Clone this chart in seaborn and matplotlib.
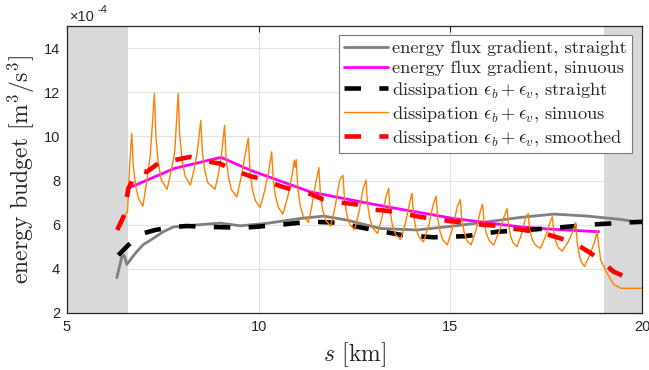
import matplotlib
matplotlib.use("Agg")
import matplotlib.pyplot as plt
import seaborn as sns
import pandas as pd
from matplotlib.lines import Line2D

# ---------------- data (values in units of 1e-4 m^3/s^3) ----------------
straight_flux_s = [6.30, 6.43, 6.49, 6.56, 6.78, 6.99, 7.25, 7.51, 7.78, 8.30, 9.00, 9.52,
                   10.21, 11.08, 11.70, 12.30, 13.17, 14.13, 15.09, 15.96, 16.83, 17.70,
                   18.57, 19.44, 20.00]
straight_flux_v = [3.60, 4.55, 4.62, 4.20, 4.70, 5.10, 5.38, 5.68, 5.90, 5.98, 6.07, 5.95,
                   6.06, 6.28, 6.39, 6.21, 5.83, 5.76, 5.94, 6.13, 6.33, 6.48,
                   6.39, 6.24, 6.09]

sinuous_flux_s = [6.58, 7.80, 9.02, 9.78, 11.34, 12.65, 13.35, 15.09, 16.83, 17.70, 18.87]
sinuous_flux_v = [7.64, 8.55, 9.05, 8.47, 7.49, 7.04, 6.81, 6.28, 5.90, 5.79, 5.68]

straight_diss_s = [6.34, 6.60, 6.99, 7.30, 7.78, 8.12, 8.73, 9.60, 10.47, 11.34, 12.04,
                   12.91, 13.74, 14.56, 15.39, 16.22, 17.00, 17.87, 18.74, 19.61, 20.00]
straight_diss_v = [4.62, 5.08, 5.61, 5.76, 5.90, 5.94, 5.90, 5.86, 5.98, 6.14, 6.09,
                   5.79, 5.53, 5.43, 5.48, 5.68, 5.76, 5.88, 6.01, 6.10, 6.13]

sinuous_diss_s = [6.50, 6.58, 6.63,
                  6.69, 6.73, 6.79, 6.87, 6.98, 7.07, 7.17,
                  7.28, 7.32, 7.38, 7.46, 7.61, 7.71, 7.81,
                  7.90, 7.94, 8.00, 8.08, 8.22, 8.31, 8.40,
                  8.49, 8.53, 8.59, 8.67, 8.86, 8.95, 9.03,
                  9.11, 9.15, 9.21, 9.29, 9.43, 9.53, 9.63,
                  9.73, 9.77, 9.83, 9.91, 10.04, 10.15, 10.26,
                  10.34, 10.38, 10.44, 10.52, 10.63, 10.76, 10.87, 10.93, 10.95,
                  10.98, 11.02, 11.08, 11.16, 11.30, 11.39, 11.48,
                  11.57, 11.61, 11.67, 11.75, 11.88, 12.00, 12.11,
                  12.20, 12.24, 12.30, 12.38, 12.50, 12.62, 12.72,
                  12.80, 12.84, 12.90, 12.98, 13.10, 13.22, 13.32,
                  13.39, 13.43, 13.49, 13.57, 13.70, 13.83, 13.94,
                  14.00, 14.04, 14.10, 14.18, 14.30, 14.44, 14.55,
                  14.63, 14.67, 14.73, 14.81, 14.92, 15.06, 15.18,
                  15.26, 15.30, 15.36, 15.43, 15.54, 15.67, 15.78,
                  15.84, 15.88, 15.94, 16.02, 16.13, 16.27, 16.41,
                  16.48, 16.52, 16.57, 16.64, 16.74, 16.86, 16.96,
                  17.03, 17.07, 17.13, 17.21, 17.35, 17.48, 17.60,
                  17.66, 17.70, 17.75, 17.82, 17.92, 18.07, 18.20,
                  18.27, 18.31, 18.36, 18.42, 18.50, 18.63, 18.76,
                  18.83, 18.92, 19.09, 19.26, 19.45, 20.00]
sinuous_diss_v = [6.40, 6.60, 8.60,
                  10.13, 8.65, 7.76, 7.17, 6.84, 7.86, 9.10,
                  11.94, 9.99, 8.82, 8.03, 7.60, 8.37, 9.30,
                  11.94, 10.07, 8.95, 8.21, 7.79, 8.47, 9.30,
                  10.73, 9.32, 8.48, 7.91, 7.60, 8.30, 9.15,
                  10.50, 9.04, 8.17, 7.58, 7.26, 8.04, 9.00,
                  9.93, 8.51, 7.66, 7.10, 6.78, 7.50, 8.39,
                  9.30, 8.03, 7.27, 6.76, 6.48, 7.27, 8.24, 8.92, 8.60,
                  8.95, 7.67, 6.90, 6.39, 6.10, 6.87, 7.80,
                  8.59, 7.39, 6.67, 6.20, 5.93, 6.86, 8.00,
                  8.24, 7.12, 6.45, 6.01, 5.76, 6.59, 7.60,
                  8.02, 6.93, 6.28, 5.84, 5.60, 6.35, 7.26,
                  7.64, 6.60, 5.98, 5.56, 5.33, 6.08, 7.00,
                  7.42, 6.43, 5.84, 5.45, 5.23, 5.98, 6.90,
                  7.29, 6.30, 5.70, 5.30, 5.08, 5.85, 6.80,
                  7.14, 6.21, 5.66, 5.29, 5.08, 5.76, 6.60,
                  6.93, 6.10, 5.60, 5.27, 5.08, 5.67, 6.40,
                  6.74, 5.96, 5.49, 5.17, 5.00, 5.59, 6.30,
                  6.50, 5.79, 5.37, 5.09, 4.93, 5.46, 6.10,
                  6.36, 5.66, 5.24, 4.96, 4.80, 5.21, 5.70,
                  6.10, 5.20, 4.66, 4.30, 4.10, 4.60, 5.20,
                  5.68, 4.40, 3.80, 3.30, 3.12, 3.12]

smoothed_diss_s = [6.31, 6.43, 6.51, 6.56, 6.60, 6.78, 6.91, 7.08, 7.43, 7.64, 7.78,
                   8.21, 8.47, 8.99, 9.34, 9.78, 10.13, 10.56, 10.91, 11.34, 11.69,
                   12.13, 12.52, 12.96, 13.35, 13.78, 14.13, 14.65, 15.00, 15.44,
                   15.78, 16.31, 16.61, 17.09, 17.44, 17.87, 18.18, 18.61, 18.92,
                   19.26, 19.57]
smoothed_diss_v = [5.76, 6.20, 6.50, 7.19, 7.64, 8.24, 8.47, 8.39, 8.85, 8.85, 8.92,
                   9.07, 8.92, 8.77, 8.47, 8.20, 8.05, 7.75, 7.57, 7.40, 7.14,
                   7.00, 6.93, 6.69, 6.63, 6.51, 6.38, 6.24, 6.16, 6.09,
                   6.01, 5.94, 5.83, 5.72, 5.61, 5.38, 5.23, 4.77, 4.40,
                   3.87, 3.64]

labels = ["energy flux gradient, straight",
          "energy flux gradient, sinuous",
          r"dissipation $\epsilon_b + \epsilon_v$, straight",
          r"dissipation $\epsilon_b + \epsilon_v$, sinuous",
          r"dissipation $\epsilon_b + \epsilon_v$, smoothed"]

shaded_spans = [(5.0, 6.6), (19.0, 20.0)]
x_ticks = [5, 10, 15, 20]
y_ticks = [2, 4, 6, 8, 10, 12, 14]

# ---------------- style ----------------
sns.set_theme(style="white")
plt.rcParams["font.family"] = ["Liberation Sans", "DejaVu Sans"]
plt.rcParams["mathtext.fontset"] = "cm"
plt.rcParams["axes.unicode_minus"] = False

axcol = "#262626"
fig = plt.figure(figsize=(6.49, 3.70), dpi=100)
ax = fig.add_axes([67 / 649, 1 - 313 / 370, (642 - 67) / 649, (313 - 26) / 370])

series = [
    (straight_flux_s, straight_flux_v, dict(color="#808080", lw=2.0, linestyle="-")),
    (sinuous_flux_s, sinuous_flux_v, dict(color="#ff00ff", lw=2.0, linestyle="-")),
    (straight_diss_s, straight_diss_v, dict(color="black", lw=3.3, linestyle=(0, (3.6, 4.0)))),
    (sinuous_diss_s, sinuous_diss_v, dict(color="#ff8000", lw=1.0, linestyle="-")),
    (smoothed_diss_s, smoothed_diss_v, dict(color="#ff0000", lw=3.3, linestyle=(0, (3.6, 4.0)))),
]

handles = []
for (s, v, kw), lab in zip(series, labels):
    df = pd.DataFrame({"s": s, "v": v})
    sns.lineplot(data=df, x="s", y="v", ax=ax, sort=False, estimator=None, **kw)
    handles.append(Line2D([], [], **kw))

for a, b in shaded_spans:
    ax.axvspan(a, b, color="#d9d9d9", lw=0, zorder=1)

ax.set_xlim(5, 20)
ax.set_ylim(2, 15)
ax.set_xticks(x_ticks)
ax.set_yticks(y_ticks)
ax.set_axisbelow(True)
ax.grid(True, color="#e3e3e3", lw=0.8)
ax.tick_params(direction="in", length=4, width=0.8, top=True, right=True,
               labelsize=10.5, colors=axcol, pad=5)
for lab in ax.get_xticklabels() + ax.get_yticklabels():
    lab.set_color(axcol)
for sp in ax.spines.values():
    sp.set_color(axcol)
    sp.set_linewidth(0.9)

ax.set_xlabel("$s$ [km]", fontfamily="cmr10", fontsize=17, color=axcol)
ax.set_ylabel(r"energy budget [m$^3$/s$^3$]", fontfamily="cmr10", fontsize=17, color=axcol)
ax.xaxis.set_label_coords(0.5, -(340 - 313) / 287)
ax.yaxis.set_label_coords(-(67 - 37) / 575, 0.5)

fig.text(70 / 649, 1 - 21 / 370, "×10", fontsize=10.5, color=axcol, va="baseline")
fig.text(98 / 649, 1 - 13 / 370, "-4", fontsize=8, color=axcol, va="baseline")

leg = ax.legend(handles, labels, loc="upper right",
                bbox_to_anchor=(632 / 649, 1 - 35 / 370), bbox_transform=fig.transFigure,
                borderaxespad=0, prop={"family": "cmr10", "size": 13.2},
                handlelength=2.4, handletextpad=0.2, labelspacing=0.2,
                borderpad=0.3, fancybox=False, framealpha=1, edgecolor="#7a7a7a")
leg.get_frame().set_linewidth(0.8)

fig.savefig("out.png", dpi=100)
